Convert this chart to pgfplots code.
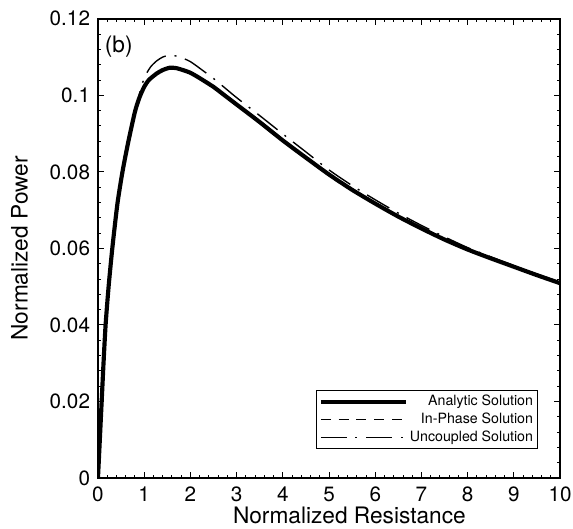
\documentclass[border=0pt]{standalone}
\usepackage{fontspec}
\setmainfont{TeX Gyre Heros}
\usepackage{pgfplots}
\pgfplotsset{compat=1.18}
\usepackage{pgfplotstable}
\usetikzlibrary{calc}

\pgfplotstableread{
R P
0 0
0.02 0.005
0.05 0.0125
0.08 0.020
0.12 0.030
0.165 0.040
0.23 0.050
0.31 0.060
0.42 0.0716
0.53 0.080
0.65 0.0875
0.80 0.0957
0.90 0.0995
1.00 0.1022
1.10 0.1040
1.27 0.1057
1.40 0.1066
1.55 0.1072
1.70 0.1071
1.98 0.1060
2.20 0.1045
2.50 0.1022
2.75 0.0999
3.00 0.0976
3.50 0.0930
4.00 0.0882
4.50 0.0837
5.00 0.0793
5.50 0.0753
6.00 0.0717
6.50 0.0683
7.00 0.0652
7.50 0.0623
8.00 0.0597
8.50 0.0574
9.00 0.0552
9.50 0.0530
10.0 0.0509
}\analytic

\pgfplotstableread{
R P
0 0
0.02 0.005
0.05 0.0125
0.08 0.020
0.12 0.030
0.165 0.040
0.23 0.050
0.31 0.060
0.42 0.0716
0.53 0.080
0.65 0.0875
0.80 0.0957
0.88 0.0992
1.00 0.1022
1.10 0.1040
1.27 0.1057
1.40 0.1066
1.55 0.1072
1.70 0.1071
1.98 0.1060
2.20 0.1045
2.50 0.1022
2.75 0.0999
3.00 0.0976
3.50 0.0930
4.00 0.0882
4.50 0.0837
5.00 0.0794
5.50 0.0754
6.00 0.0718
6.50 0.0684
7.00 0.0653
7.50 0.0624
8.00 0.0598
8.50 0.0575
9.00 0.0553
9.50 0.0531
10.0 0.0510
}\inphase

\pgfplotstableread{
R P
0 0
0.02 0.005
0.05 0.0125
0.08 0.020
0.12 0.030
0.165 0.040
0.23 0.050
0.31 0.060
0.42 0.0716
0.53 0.080
0.65 0.0875
0.80 0.0957
0.88 0.0995
0.95 0.1028
1.05 0.1057
1.15 0.1076
1.27 0.1090
1.40 0.1100
1.55 0.1105
1.75 0.1101
2.00 0.1088
2.30 0.1062
2.50 0.1044
2.75 0.1019
3.00 0.0994
3.50 0.0947
4.00 0.0899
4.50 0.0852
5.00 0.0805
5.50 0.0764
6.00 0.0727
6.50 0.0692
7.00 0.0660
7.50 0.0630
8.00 0.0602
8.50 0.0578
9.00 0.0555
9.50 0.0533
10.0 0.0512
}\uncoupled

\begin{document}
\begin{tikzpicture}
\begin{axis}[
  scale only axis,
  width=233.5bp, height=232bp,
  xmin=0, xmax=10, ymin=0, ymax=0.12,
  xtick={0,1,...,10},
  ytick={0,0.02,0.04,0.06,0.08,0.1,0.12},
  minor x tick num=4, minor y tick num=4,
  tick align=inside,
  major tick length=3bp, minor tick length=1.6bp,
  every tick/.style={black, line width=0.5bp},
  axis line style={line width=0.75bp},
  scaled y ticks=false,
  yticklabel style={/pgf/number format/fixed, /pgf/number format/precision=2, xshift=-0.5bp},
  /pgf/number format/assume math mode=true,
  tick label style={font=\fontsize{10.5}{11}\selectfont},
  xticklabel style={yshift=-1bp},
  xlabel={Normalized Resistance},
  ylabel={Normalized Power},
  label style={font=\fontsize{11.5}{12}\selectfont},
  xlabel style={at={(axis description cs:0.544,-0.0625)}, anchor=north, inner sep=0pt},
  ylabel style={at={(axis description cs:-0.17,0.5)}, anchor=center, inner sep=0pt},
  legend style={at={(axis description cs:0.951,0.063)}, anchor=south east,
    draw=black, line width=0.5bp, inner sep=1bp,
    font=\fontsize{7.2}{8}\selectfont,
    nodes={inner sep=1bp, text height=5.4bp, text depth=1.5bp},
    row sep=0.2bp},
  legend cell align=right,
  legend image code/.code={\draw[#1] (0bp,0bp) -- (43bp,0bp);},
]
\addplot[black, line width=2.1bp, smooth, tension=0.4] table {\analytic};
\addlegendentry{Analytic Solution}
\addplot[black, line width=0.7bp, dash pattern=on 5bp off 4bp, smooth, tension=0.4] table {\inphase};
\addlegendentry{In-Phase Solution}
\addplot[black, line width=0.7bp, dash pattern=on 13bp off 4.5bp on 1bp off 4.5bp, smooth, tension=0.4] table {\uncoupled};
\addlegendentry{Uncoupled Solution}
\node[font=\fontsize{11.5}{12}\selectfont, inner sep=0pt] at (axis cs:0.45,0.1128) {(b)};
\end{axis}
\pgfresetboundingbox
\path[use as bounding box] ($(current axis.south west)+(-49.5bp,-25.3bp)$) rectangle ($(current axis.north east)+(6.5bp,9.5bp)$);
\end{tikzpicture}
\end{document}
